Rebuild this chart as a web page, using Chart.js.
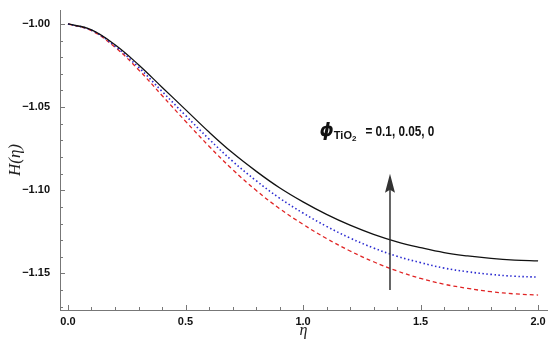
<!DOCTYPE html>
<html>
<head>
<meta charset="utf-8">
<script src="https://cdn.jsdelivr.net/npm/chart.js@4/dist/chart.umd.min.js"></script>
<style>
  html, body { margin: 0; padding: 0; background: #fff; }
  #wrap { width: 550px; height: 350px; }
</style>
</head>
<body>
<div id="wrap"><canvas id="hChart" width="550" height="350"></canvas></div>
<script>
// eta grid and H(eta)
const etaValues = [0.0, 0.1, 0.2, 0.3, 0.4, 0.5, 0.6, 0.7, 0.8, 0.9, 1.0,
                   1.1, 1.2, 1.3, 1.4, 1.5, 1.6, 1.7, 1.8, 1.9, 2.0];
const hPhi010 = [-1.0000, -1.0035, -1.0125, -1.0245, -1.0380, -1.0515, -1.0650, -1.0775, -1.0885, -1.0985, -1.1070,
                 -1.1145, -1.1210, -1.1265, -1.1310, -1.1345, -1.1375, -1.1395, -1.1410, -1.1420, -1.1425];
const hPhi005 = [-1.0000, -1.0038, -1.0133, -1.0260, -1.0405, -1.0550, -1.0692, -1.0825, -1.0942, -1.1047, -1.1137,
                 -1.1217, -1.1287, -1.1347, -1.1397, -1.1435, -1.1468, -1.1490, -1.1506, -1.1517, -1.1522];
const hPhi000 = [-1.0000, -1.0040, -1.0140, -1.0275, -1.0430, -1.0585, -1.0735, -1.0875, -1.1000, -1.1110, -1.1205,
                 -1.1290, -1.1365, -1.1430, -1.1485, -1.1530, -1.1565, -1.1590, -1.1610, -1.1623, -1.1630];

const xTicks = [0.0, 0.5, 1.0, 1.5, 2.0];
const yTicks = [-1.15, -1.10, -1.05, -1.00];

// arrow + label (data coordinates)
const arrowEta = 1.37;
const arrowFrom = -1.160;
const arrowTo = -1.090;
const labelEta = 1.07;
const labelH = -1.0675;

function toPoints(ys) {
    return etaValues.map((x, i) => ({ x: x, y: ys[i] }));
}

const ctx = document.getElementById("hChart").getContext("2d");

// small inward frame ticks, Mathematica style
const frameTicks = {
    id: 'frameTicks',
    afterDatasetsDraw: (chart) => {
        const { ctx, scales: { x, y }, chartArea } = chart;
        ctx.save();
        ctx.strokeStyle = '#777';
        ctx.lineWidth = 1;
        ctx.beginPath();
        for (let k = 0; k <= 20; k++) {
            const v = k / 10;
            const px = Math.round(x.getPixelForValue(v)) + 0.5;
            const len = (k % 5 === 0) ? 5 : 3;
            ctx.moveTo(px, chartArea.bottom);
            ctx.lineTo(px, chartArea.bottom - len);
        }
        for (let k = 100; k <= 117; k++) {
            const v = -k / 100;
            const py = Math.round(y.getPixelForValue(v)) + 0.5;
            const len = (k % 5 === 0) ? 5 : 3;
            ctx.moveTo(chartArea.left, py);
            ctx.lineTo(chartArea.left + len, py);
        }
        ctx.stroke();
        ctx.restore();
    }
};

const arrowLabel = {
    id: 'arrowLabel',
    afterDatasetsDraw: (chart) => {
        const { ctx, scales: { x, y } } = chart;
        const ax = x.getPixelForValue(arrowEta);
        const y0 = y.getPixelForValue(arrowFrom);
        const y1 = y.getPixelForValue(arrowTo);
        ctx.save();
        ctx.strokeStyle = '#333';
        ctx.fillStyle = '#333';
        ctx.lineWidth = 1.5;
        ctx.beginPath();
        ctx.moveTo(ax, y0);
        ctx.lineTo(ax, y1 + 12);
        ctx.stroke();
        ctx.beginPath();
        ctx.moveTo(ax, y1);
        ctx.lineTo(ax - 5, y1 + 19);
        ctx.lineTo(ax, y1 + 16);
        ctx.lineTo(ax + 5, y1 + 19);
        ctx.closePath();
        ctx.fill();

        // phi_TiO2 = 0.1, 0.05, 0
        const lx = x.getPixelForValue(labelEta);
        const ly = y.getPixelForValue(labelH);
        ctx.fillStyle = '#111';
        ctx.textBaseline = 'alphabetic';
        ctx.font = 'bold italic 18px "DejaVu Sans"';
        ctx.fillText('\u03d5', lx, ly);
        let cx = lx + ctx.measureText('\u03d5').width;
        ctx.font = 'bold 11px "Liberation Sans"';
        ctx.fillText('TiO', cx, ly + 3);
        cx += ctx.measureText('TiO').width;
        ctx.font = 'bold 8px "Liberation Sans"';
        ctx.fillText('2', cx, ly + 5);
        cx += ctx.measureText('2').width + 9;
        ctx.translate(cx, ly);
        ctx.scale(0.84, 1);
        ctx.font = 'bold 14px "Liberation Sans"';
        ctx.fillText('= 0.1, 0.05, 0', 0, 0);
        ctx.restore();
    }
};

const hChart = new Chart(ctx, {
    type: 'line',
    data: {
        datasets: [
            {
                label: 'phi = 0.1',
                data: toPoints(hPhi010),
                borderColor: '#111',
                borderWidth: 1.3,
                pointRadius: 0,
                tension: 0.4,
                fill: false
            },
            {
                label: 'phi = 0.05',
                data: toPoints(hPhi005),
                borderColor: '#2b2bd0',
                borderWidth: 1.6,
                borderDash: [1.5, 2.5],
                pointRadius: 0,
                tension: 0.4,
                fill: false
            },
            {
                label: 'phi = 0',
                data: toPoints(hPhi000),
                borderColor: '#e02424',
                borderWidth: 1.3,
                borderDash: [4, 3],
                pointRadius: 0,
                tension: 0.4,
                fill: false
            }
        ]
    },
    options: {
        responsive: false,
        animation: false,
        layout: { padding: { top: 10, right: 3, left: 0, bottom: 0 } },
        plugins: {
            legend: { display: false },
            tooltip: { enabled: false }
        },
        scales: {
            x: {
                type: 'linear',
                min: -0.034,
                max: 2.038,
                afterFit: (s) => { s.height = 40; s.paddingLeft = 0; s.paddingRight = 0; },
                afterBuildTicks: (s) => { s.ticks = xTicks.map(v => ({ value: v })); },
                grid: { display: false, drawTicks: false },
                border: { display: true, color: '#777', width: 1 },
                ticks: {
                    padding: 5,
                    color: '#111',
                    font: { family: '"Liberation Sans", Arial', size: 11, weight: 'bold' },
                    callback: (v) => Number(v).toFixed(1)
                },
                title: {
                    display: true,
                    text: '\u03b7',
                    color: '#222',
                    padding: { top: 0, bottom: 10 },
                    font: { family: '"Liberation Serif", serif', size: 16, style: 'italic' }
                }
            },
            y: {
                type: 'linear',
                min: -1.172,
                max: -0.9916,
                afterFit: (s) => { s.width = 60; s.paddingTop = 0; s.paddingBottom = 0; },
                afterBuildTicks: (s) => { s.ticks = yTicks.map(v => ({ value: v })); },
                grid: { display: false, drawTicks: false },
                border: { display: true, color: '#777', width: 1 },
                ticks: {
                    padding: 10,
                    color: '#111',
                    font: { family: '"Liberation Sans", Arial', size: 11, weight: 'bold' },
                    callback: (v) => '\u2212' + Math.abs(Number(v)).toFixed(2)
                },
                title: {
                    display: true,
                    text: 'H(\u03b7)',
                    color: '#222',
                    padding: { top: 5, bottom: 0 },
                    font: { family: '"Liberation Serif", serif', size: 17, style: 'italic' }
                }
            }
        }
    },
    plugins: [frameTicks, arrowLabel]
});
</script>
</body>
</html>
